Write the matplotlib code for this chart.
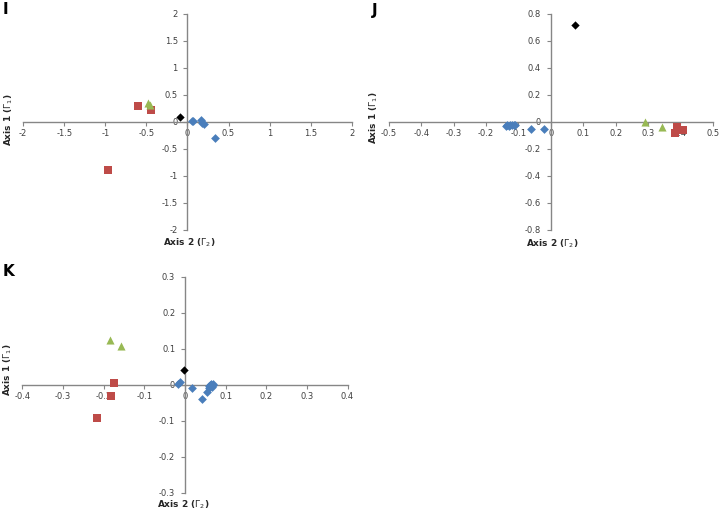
import matplotlib.pyplot as plt
import numpy as np

# panel I
i_blue_x = [0.05, 0.07, 0.16, 0.18, 0.20, 0.33]
i_blue_y = [0.02, 0.02, 0.03, -0.02, -0.04, -0.30]
i_red_x = [-0.60, -0.44, -0.97]
i_red_y = [0.30, 0.22, -0.90]
i_green_x = [-0.48, -0.45]
i_green_y = [0.35, 0.32]
i_black_x = [-0.09]
i_black_y = [0.09]

# panel J
j_blue_x = [-0.14, -0.135, -0.13, -0.125, -0.12, -0.115, -0.11, -0.06, -0.02]
j_blue_y = [-0.03, -0.02, -0.03, -0.02, -0.025, -0.02, -0.02, -0.055, -0.055]
j_red_x = [0.39, 0.383, 0.407]
j_red_y = [-0.035, -0.085, -0.06]
j_green_x = [0.29, 0.344]
j_green_y = [0.0, -0.035]
j_black_x = [0.075]
j_black_y = [0.72]

# panel K
k_blue_x = [-0.012, -0.018, 0.018, 0.043, 0.055, 0.058, 0.06, 0.062, 0.065, 0.066, 0.068, 0.07]
k_blue_y = [0.008, 0.003, -0.008, -0.040, -0.020, -0.010, -0.005, 0.0, 0.003, -0.006, 0.0, 0.002]
k_red_x = [-0.175, -0.181, -0.217]
k_red_y = [0.005, -0.032, -0.093]
k_green_x = [-0.184, -0.157]
k_green_y = [0.124, 0.107]
k_black_x = [-0.002]
k_black_y = [0.041]

BLUE = '#4A7EBB'
RED = '#BE4B48'
GREEN = '#98B954'
AXC = '#868686'

fig = plt.figure(figsize=(7.21, 5.12), dpi=100)


def fmt(v):
    s = ('%.2f' % v).rstrip('0').rstrip('.')
    if s == '-0':
        s = '0'
    return s


def panel(rect, lim_x, lim_y, step_x, step_y, blue, red, green, black):
    ax = fig.add_axes(rect)
    ax.scatter(*blue, marker='D', s=20, color=BLUE, zorder=3, linewidths=0)
    ax.scatter(*red, marker='s', s=36, color=RED, zorder=3, linewidths=0)
    ax.scatter(*green, marker='^', s=34, color=GREEN, zorder=3, linewidths=0)
    ax.scatter(*black, marker='D', s=18, color='black', zorder=4, linewidths=0)
    ax.set_xlim(-lim_x, lim_x)
    ax.set_ylim(-lim_y, lim_y)
    xt = np.round(np.arange(-lim_x, lim_x + step_x / 2, step_x), 3)
    yt = np.round(np.arange(-lim_y, lim_y + step_y / 2, step_y), 3)
    ax.set_xticks(xt)
    ax.set_yticks(yt)
    ax.set_xticklabels([fmt(v) for v in xt])
    ax.set_yticklabels([fmt(v) for v in yt])
    for s in ['left', 'bottom']:
        ax.spines[s].set_position('zero')
        ax.spines[s].set_color(AXC)
        ax.spines[s].set_linewidth(1.0)
    ax.spines['top'].set_visible(False)
    ax.spines['right'].set_visible(False)
    ax.tick_params(direction='out', length=3, width=0.8, color=AXC,
                   labelsize=6, labelcolor='#404040', pad=2)
    ax.tick_params(axis='y', pad=4)
    ax.patch.set_alpha(0)
    return ax


panel([0.032, 0.551, 0.456, 0.422], 2, 2, 0.5, 0.5,
      (i_blue_x, i_blue_y), (i_red_x, i_red_y), (i_green_x, i_green_y), (i_black_x, i_black_y))
panel([0.5395, 0.551, 0.449, 0.422], 0.5, 0.8, 0.1, 0.2,
      (j_blue_x, j_blue_y), (j_red_x, j_red_y), (j_green_x, j_green_y), (j_black_x, j_black_y))
panel([0.031, 0.0377, 0.451, 0.422], 0.4, 0.3, 0.1, 0.1,
      (k_blue_x, k_blue_y), (k_red_x, k_red_y), (k_green_x, k_green_y), (k_black_x, k_black_y))

ylab = r'Axis 1 ($\mathit{\Gamma}_{\mathit{1}}$)'
xlab = r'Axis 2 ($\mathit{\Gamma}_{\mathit{2}}$)'

for px, py in [(9, 120), (374, 118), (8, 370)]:
    fig.text(px / 721, 1 - py / 512, ylab, rotation=90, fontsize=6.5, fontweight='bold',
             color='#262626', ha='center', va='center')
for px, py in [(189, 243), (552, 244), (183, 505)]:
    fig.text(px / 721, 1 - py / 512, xlab, fontsize=6.5, fontweight='bold',
             color='#262626', ha='center', va='center')

for lab, px, py in [('I', 3, 10), ('J', 372, 10), ('K', 3, 272)]:
    fig.text(px / 721, 1 - py / 512, lab, fontsize=11, fontweight='bold',
             ha='left', va='center')

fig.savefig('out.png', dpi=100)
